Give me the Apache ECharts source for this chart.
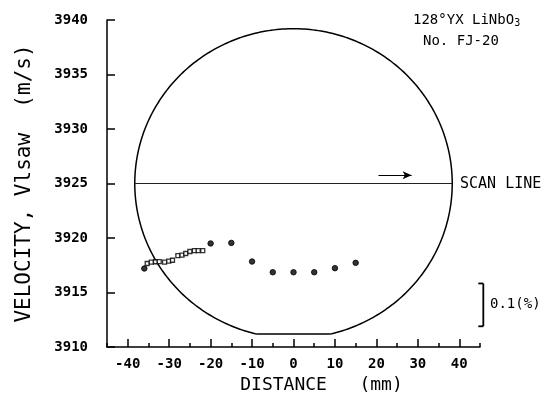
<!DOCTYPE html>
<html>
<head>
<meta charset="utf-8">
<script src="https://cdn.jsdelivr.net/npm/echarts@6/dist/echarts.min.js"></script>
<style>
  html, body { margin: 0; padding: 0; background: #fff; }
  #main { width: 555px; height: 401px; }
</style>
</head>
<body>
<div id="main"></div>
<script>
// x = distance (mm), y = velocity (m/s)
var squarePts = [
  [-35.3, 3917.66], [-34.3, 3917.78], [-33.3, 3917.82], [-32.4, 3917.84],
  [-31.1, 3917.78], [-30.1, 3917.87], [-29.2, 3917.96], [-27.9, 3918.39],
  [-26.9, 3918.42], [-26.0, 3918.58], [-25.0, 3918.76], [-23.9, 3918.85],
  [-23.0, 3918.85], [-21.9, 3918.85]
];
var dotPts = [
  [-36, 3917.2], [-20, 3919.5], [-15, 3919.55], [-10, 3917.84],
  [-5, 3916.86], [0, 3916.86], [5, 3916.86], [10, 3917.23], [15, 3917.72]
];
var scanLine = [[-38.3, 3925], [38.3, 3925]];
var arrowPts = [[20.5, 3925.75], [28.5, 3925.75]];
// wafer outline: centre, radii, flat level
var wafer = { cx: 0, cy: 3925, rx: 38.3, ry: 14.2, flatY: 3911.2 };
// 0.1 % bar: x, bottom, top
var scaleBar = [[45.8, 3911.9, 3915.83]];

var xMajor = [-40, -30, -20, -10, 0, 10, 20, 30, 40];
var xMinor = [-45, -35, -25, -15, -5, 5, 15, 25, 35, 45];

var mono = 'DejaVu Sans Mono';
var myChart = echarts.init(document.getElementById('main'));

var option = {
  backgroundColor: '#fff',
  animation: false,
  grid: { left: 107, right: 75, top: 20, bottom: 54 },
  xAxis: [{
    type: 'value', min: -45, max: 45,
    name: 'DISTANCE   (mm)', nameLocation: 'middle', nameGap: 26,
    nameTextStyle: { fontFamily: mono, fontSize: 18, color: '#000', padding: [0, 0, 0, 56] },
    axisLine: { onZero: false, lineStyle: { color: '#000', width: 1.5 } },
    axisTick: { inside: true, length: 8, customValues: xMajor, lineStyle: { color: '#000', width: 1.5 } },
    axisLabel: { customValues: xMajor, margin: 10, fontFamily: mono, fontSize: 14, fontWeight: 'bold', color: '#000' },
    splitLine: { show: false }
  }, {
    type: 'value', min: -45, max: 45, position: 'bottom',
    axisLine: { show: false, onZero: false },
    axisTick: { inside: true, length: 4, customValues: xMinor, lineStyle: { color: '#000', width: 1.5 } },
    axisLabel: { show: false },
    splitLine: { show: false }
  }],
  yAxis: {
    type: 'value', min: 3910, max: 3940, interval: 5,
    name: 'VELOCITY, Vlsaw  (m/s)', nameLocation: 'middle', nameGap: 72,
    nameTextStyle: { fontFamily: mono, fontSize: 21, color: '#000' },
    axisLine: { show: true, onZero: false, lineStyle: { color: '#000', width: 1.5 } },
    axisTick: { show: true, inside: true, length: 8, lineStyle: { color: '#000', width: 1.5 } },
    axisLabel: {
      margin: 19, fontFamily: mono, fontSize: 14, fontWeight: 'bold', color: '#000',
      formatter: function (v) { return String(v); }
    },
    splitLine: { show: false }
  },
  series: [
    {
      type: 'custom', name: 'wafer', silent: true,
      data: [[wafer.cx, wafer.cy]],
      renderItem: function (params, api) {
        var pts = [];
        for (var i = 0; i < 360; i++) {
          var t = i * Math.PI / 180;
          var x = wafer.cx + wafer.rx * Math.cos(t);
          var y = wafer.cy + wafer.ry * Math.sin(t);
          if (y < wafer.flatY) y = wafer.flatY;
          pts.push(api.coord([x, y]));
        }
        return {
          type: 'polygon', shape: { points: pts },
          style: { fill: 'none', stroke: '#000', lineWidth: 1.5 }
        };
      }
    },
    {
      type: 'line', name: 'scan', data: scanLine, symbol: 'none', silent: true,
      lineStyle: { color: '#222', width: 1 },
      markLine: {
        silent: true, symbol: ['none', 'arrow'], symbolSize: [6, 9],
        label: { show: false },
        lineStyle: { color: '#000', width: 1, type: 'solid' },
        data: [[{ coord: arrowPts[0] }, { coord: arrowPts[1] }]]
      }
    },
    {
      type: 'custom', name: 'bar', silent: true, clip: false,
      data: scaleBar,
      renderItem: function (params, api) {
        var b = api.coord([api.value(0), api.value(1)]);
        var t = api.coord([api.value(0), api.value(2)]);
        var s = { stroke: '#000', lineWidth: 1.8 };
        return {
          type: 'group', children: [
            { type: 'line', shape: { x1: b[0], y1: b[1], x2: t[0], y2: t[1] }, style: s },
            { type: 'line', shape: { x1: t[0] - 5, y1: t[1], x2: t[0], y2: t[1] }, style: s },
            { type: 'line', shape: { x1: b[0] - 5, y1: b[1], x2: b[0], y2: b[1] }, style: s }
          ]
        };
      }
    },
    {
      type: 'scatter', name: 'open', data: squarePts, symbol: 'rect', symbolSize: 4,
      itemStyle: { color: '#fff', borderColor: '#000', borderWidth: 1.3 }
    },
    {
      type: 'scatter', name: 'dots', data: dotPts, symbol: 'circle', symbolSize: 5.5,
      itemStyle: { color: '#000', borderColor: '#000', borderWidth: 1 }
    }
  ],
  graphic: [
    { type: 'text', left: 413, top: 13, style: { rich: { a: { fontFamily: mono, fontSize: 14, fill: '#000' }, s: { fontFamily: mono, fontSize: 10, fill: '#000', verticalAlign: 'bottom', padding: [6, 0, 0, 0] } }, text: '{a|128°YX LiNbO}{s|3}' } },
    { type: 'text', left: 423, top: 34, style: { text: 'No. FJ-20', fontFamily: mono, fontSize: 14, fill: '#000' } },
    { type: 'text', left: 460, top: 177, style: { text: 'SCAN LINE', fontFamily: mono, fontSize: 15, fill: '#000' } },
    { type: 'text', left: 490, top: 297, style: { text: '0.1(%)', fontFamily: mono, fontSize: 14, fill: '#000' } }
  ]
};
myChart.setOption(option);
</script>
</body>
</html>
